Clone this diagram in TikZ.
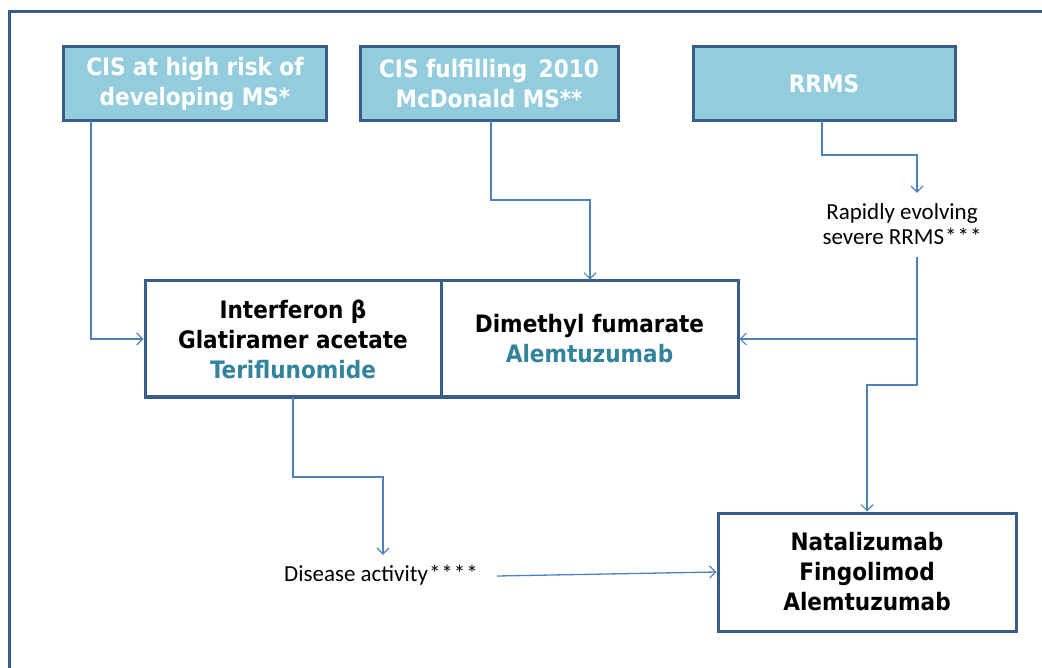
\documentclass[tikz,border=0pt]{standalone}
\usepackage{fontspec}
\setmainfont{DejaVu Sans Condensed}
\newfontfamily\calfont{Carlito}
\usetikzlibrary{arrows.meta}
\definecolor{frameblue}{RGB}{56,93,138}
\definecolor{boxfill}{RGB}{147,205,221}
\definecolor{connblue}{RGB}{79,129,189}
\definecolor{tealtext}{RGB}{49,132,155}
\newcommand{\ask}{\kern1pt*}
\tikzset{
  topbox/.style={draw=frameblue, line width=3pt, fill=boxfill, text=white,
    font=\fontsize{24}{30}\selectfont\bfseries, align=center,
    minimum width=263pt, minimum height=74pt, inner sep=0pt},
  drugbox/.style={draw=frameblue, line width=3pt, fill=white, text=black,
    font=\fontsize{24}{30}\selectfont\bfseries, align=center, inner sep=0pt},
  lbl/.style={font=\calfont\fontsize{23}{25}\selectfont, align=center, inner sep=0pt},
  conn/.style={draw=connblue, line width=1.3pt},
  arr/.style={conn, -{Straight Barb[length=6pt,width=12pt,line width=1.2pt]}},
}
\begin{document}
\begin{tikzpicture}[x=1pt,y=-1pt]
\useasboundingbox (0,0) rectangle (1042,668);
% outer frame
\draw[frameblue, line width=3pt] (9,680) -- (9,12) -- (1060,12);
% top boxes
\node[topbox] (b1) at (195,83.5) {CIS at high risk of\\developing MS*};
\node[topbox, minimum width=258pt] (b2) at (489,83.5) {CIS fulfilling\ \,2010\\McDonald MS**};
\node[topbox, minimum width=262pt] (b3) at (824,83.5) {RRMS};
% drug boxes
\node[drugbox, minimum width=296pt, minimum height=116pt] (L) at (293,339)
  {Interferon β\\Glatiramer acetate\\\textcolor{tealtext}{Teriflunomide}};
\node[drugbox, minimum width=297pt, minimum height=116pt] (R) at (589.5,339)
  {Dimethyl fumarate\\\textcolor{tealtext}{Alemtuzumab}};
\node[drugbox, minimum width=298pt, minimum height=118pt] (N) at (867,572)
  {Natalizumab\\Fingolimod\\Alemtuzumab};
% labels
\node[lbl, minimum height=62pt] (rap) at (902,224) {Rapidly evolving\\severe RRMS\ask\ask\ask};
\node[lbl, minimum width=224pt, minimum height=40pt] (dis) at (381,575) {Disease activity\ask\ask\ask\ask};
% bend coordinates
\coordinate (c1) at (91,121);
\coordinate (c2a) at (491,121);
\coordinate (c2b) at (590,200);
\coordinate (c3a) at (822,121);
\coordinate (c3b) at (917,155);
\coordinate (r0) at (917,257);
\coordinate (rj) at (917,339);
\coordinate (rb) at (867,385);
\coordinate (l0) at (293,397);
\coordinate (lb) at (383,477);
\coordinate (d0) at (497,576);
% connectors
\draw[arr] (c1) |- (L.west);
\draw[arr] (c2a) |- (c2b) -- (R.north -| c2b);
\draw[arr] (c3a) |- (c3b) -- (rap.north -| c3b);
\draw[arr] (r0) -- (rj) -- (R.east);
\draw[arr] (rj) |- (rb) -- (N.north);
\draw[arr] (l0) |- (lb) -- (dis.north -| lb);
\draw[arr] (d0) -- (N.west);
\end{tikzpicture}
\end{document}
